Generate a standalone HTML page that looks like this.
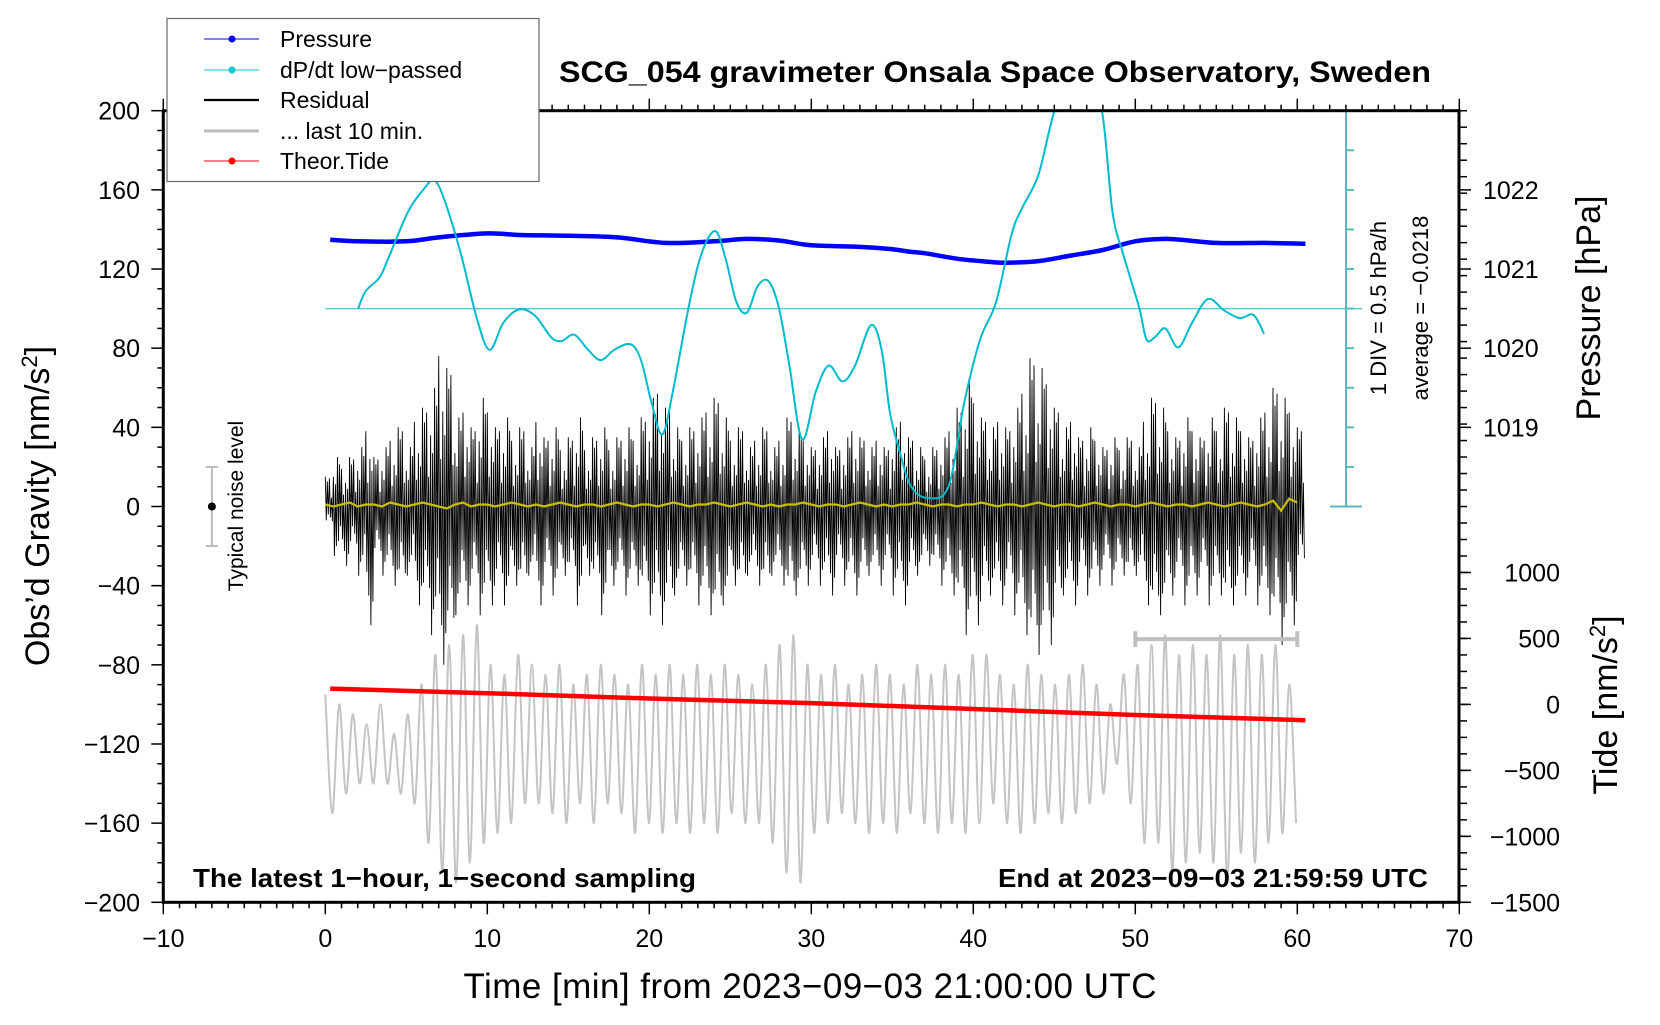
<!DOCTYPE html>
<html><head><meta charset="utf-8"><style>
body{margin:0;background:#fff}
svg text{font-family:"Liberation Sans",sans-serif}
</style></head><body>
<svg id="c" width="1660" height="1020" viewBox="0 0 1660 1020" xmlns="http://www.w3.org/2000/svg">
<defs><clipPath id="pc"><rect x="163.3" y="110.7" width="1295.7" height="791.6"/></clipPath></defs>
<rect width="1660" height="1020" fill="#fff"/>
<g id="marks" clip-path="url(#pc)"></g>
<g id="axes"></g>
<text x="995" y="82" text-anchor="middle" font-size="30" font-weight="bold" textLength="872" lengthAdjust="spacingAndGlyphs">SCG_054 gravimeter Onsala Space Observatory, Sweden</text>
<text x="193" y="887" font-size="26" font-weight="bold" textLength="503" lengthAdjust="spacingAndGlyphs">The latest 1−hour, 1−second sampling</text>
<text x="1428" y="887" text-anchor="end" font-size="26" font-weight="bold" textLength="430" lengthAdjust="spacingAndGlyphs">End at 2023−09−03 21:59:59 UTC</text>
<text x="810" y="998" text-anchor="middle" font-size="35" textLength="693">Time [min] from 2023−09−03 21:00:00 UTC</text>
<text transform="translate(49,506) rotate(-90)" text-anchor="middle" font-size="34">Obs’d Gravity [nm/s<tspan baseline-shift="super" font-size="22">2</tspan>]</text>
<text transform="translate(1600,308) rotate(-90)" text-anchor="middle" font-size="34">Pressure [hPa]</text>
<text transform="translate(1617,705) rotate(-90)" text-anchor="middle" font-size="34">Tide [nm/s<tspan baseline-shift="super" font-size="22">2</tspan>]</text>
<text transform="translate(1386,308) rotate(-90)" text-anchor="middle" font-size="22">1 DIV = 0.5 hPa/h</text>
<text transform="translate(1428,308) rotate(-90)" text-anchor="middle" font-size="22">average = −0.0218</text>
<text transform="translate(243,506) rotate(-90)" text-anchor="middle" font-size="21">Typical noise level</text>
<g>
<rect x="167" y="18.5" width="372" height="163" fill="#fff" stroke="#666" stroke-width="1.2"/>
<g><line x1="204" y1="39" x2="259" y2="39" stroke="#00f" stroke-width="1"/><circle cx="232" cy="39" r="3.5" fill="#00f"/><text x="280" y="47" font-size="23">Pressure</text></g>
<g><line x1="204" y1="70" x2="259" y2="70" stroke="#0cc" stroke-width="1"/><circle cx="232" cy="70" r="3.5" fill="#0cc"/><text x="280" y="78" font-size="23">dP/dt low−passed</text></g>
<g><line x1="204" y1="100" x2="259" y2="100" stroke="#000" stroke-width="2.2"/><text x="280" y="108" font-size="23">Residual</text></g>
<g><line x1="204" y1="131" x2="259" y2="131" stroke="#bbb" stroke-width="3"/><text x="280" y="139" font-size="23">... last 10 min.</text></g>
<g><line x1="204" y1="161" x2="259" y2="161" stroke="#f00" stroke-width="1"/><circle cx="232" cy="161" r="3.5" fill="#f00"/><text x="280" y="169" font-size="23">Theor.Tide</text></g>
</g>
</svg>
<script>
const xTicks=[-10,0,10,20,30,40,50,60,70];
const yTicks=[200,160,120,80,40,0,-40,-80,-120,-160,-200];
const pTicks=[1022,1021,1020,1019];
const tideTicks=[1000,500,0,-500,-1000,-1500];
const pT=[0.3,2,5,7,10,12,15,18,21,24,26,28,30,33,35,36,37,39,41,42,44,46,48,50,52,55,58,60.5];
const pV=[1021.37,1021.35,1021.35,1021.4,1021.45,1021.43,1021.42,1021.4,1021.33,1021.35,1021.38,1021.36,1021.3,1021.28,1021.25,1021.22,1021.2,1021.13,1021.09,1021.08,1021.1,1021.17,1021.24,1021.35,1021.38,1021.33,1021.33,1021.32];
const dT=[2.03,2.49,3.34,3.86,5.1,6.08,6.74,7.39,8.37,9.35,10.14,10.99,11.97,12.95,13.93,14.58,15.37,16.22,17.0,17.85,18.84,19.49,20.14,20.8,21.45,22.43,23.22,24.07,24.72,25.38,26.03,26.68,27.34,27.99,28.65,29.43,30.28,31.07,31.92,32.7,33.68,34.34,34.86,35.51,36.17,37.15,38.46,39.44,40.42,41.4,42.38,43.04,44.02,45.0,45.98,46.96,47.94,48.59,49.25,50.23,50.69,51.21,51.86,52.65,53.5,54.48,55.46,56.44,57.29,57.95];
const dV=[0,0.22,0.39,0.62,1.22,1.51,1.62,1.35,0.69,-0.12,-0.52,-0.18,-0.01,-0.09,-0.36,-0.41,-0.33,-0.52,-0.65,-0.52,-0.45,-0.65,-1.19,-1.59,-1.05,0.02,0.69,0.98,0.62,0.08,-0.05,0.28,0.35,0.02,-0.72,-1.65,-1.05,-0.72,-0.92,-0.72,-0.21,-0.52,-1.32,-1.85,-2.25,-2.39,-2.25,-1.19,-0.39,0.08,0.95,1.28,1.69,2.49,2.9,3.0,2.5,1.22,0.69,0.02,-0.39,-0.36,-0.25,-0.49,-0.18,0.12,-0.02,-0.12,-0.08,-0.32];
const resHi=[15,25,20,25,30,40,25,30,35,40,30,45,50,60,80,70,45,50,40,55,50,40,45,35,40,30,45,35,40,30,35,45,30,35,40,30,35,40,35,45,55,60,50,40,35,40,45,50,55,45,35,40,30,35,40,30,35,45,40,35,30,35,40,30,35,40,35,30,35,30,40,45,35,30,25,30,35,40,50,65,55,45,40,45,40,50,60,75,70,65,50,40,45,35,40,35,30,35,30,35,30,45,55,50,40,35,45,40,35,45,40,50,45,40,35,45,50,60,55,50,40];
const resLo=[-10,-25,-30,-25,-35,-60,-30,-35,-40,-45,-35,-50,-55,-65,-80,-75,-55,-50,-45,-55,-50,-45,-50,-40,-45,-35,-50,-40,-45,-35,-40,-50,-35,-45,-55,-40,-40,-45,-40,-50,-55,-60,-55,-45,-40,-45,-50,-55,-60,-50,-40,-45,-35,-40,-45,-35,-40,-50,-45,-40,-35,-40,-45,-35,-40,-45,-40,-35,-40,-35,-45,-50,-40,-35,-30,-35,-40,-45,-55,-65,-60,-50,-45,-50,-45,-55,-65,-80,-75,-70,-55,-45,-50,-40,-45,-40,-35,-40,-35,-40,-35,-50,-60,-55,-45,-40,-50,-45,-40,-50,-45,-55,-50,-45,-40,-50,-55,-65,-70,-60,-35];
const smooth=[1,0,1,2,0,1,1,0,2,1,0,1,2,1,0,-1,1,2,0,1,1,0,1,2,1,0,1,0,1,2,1,0,1,1,0,1,2,1,0,1,1,0,1,2,1,0,1,1,2,1,0,1,2,1,0,1,0,1,1,2,1,0,1,1,0,1,2,1,0,1,0,1,1,2,1,0,1,1,0,1,1,2,1,0,1,1,0,1,2,1,0,1,1,0,1,2,1,0,1,1,0,1,2,1,0,1,1,0,1,2,1,0,1,2,1,0,1,3,-2,4,2];
const gPk=[-95,-100,-105,-110,-100,-115,-105,-90,-75,-70,-65,-60,-80,-85,-75,-80,-85,-80,-90,-85,-80,-85,-90,-80,-85,-80,-85,-80,-85,-80,-85,-90,-80,-70,-65,-80,-85,-80,-90,-85,-80,-85,-90,-80,-85,-80,-85,-75,-75,-85,-90,-80,-85,-90,-85,-80,-90,-100,-85,-80,-70,-65,-75,-70,-75,-65,-75,-70,-75,-70,-90];
const gTr=[-155,-145,-140,-140,-140,-145,-150,-170,-185,-190,-180,-170,-165,-160,-150,-150,-155,-160,-150,-160,-150,-155,-165,-160,-165,-160,-165,-160,-165,-155,-160,-160,-170,-185,-190,-165,-160,-155,-160,-165,-160,-165,-155,-160,-165,-160,-165,-160,-150,-160,-165,-160,-155,-160,-155,-150,-145,-130,-150,-170,-170,-185,-180,-175,-180,-190,-175,-180,-170,-165,-160];
const tideT=[0.3,10,20,30,40,50,60.5];
const tideV=[120,85,45,10,-35,-80,-120];

const X=t=>163.3+(t+10)*16.2;
const Y=g=>110.7+(200-g)*1.979;
const PtoG=p=>160+(p-1022)*40;
const TtoG=v=>-100+v/15;
const DtoG=r=>100+r*40;
const NS='http://www.w3.org/2000/svg';
const marks=document.getElementById('marks'), axes=document.getElementById('axes');
function mk(tag,attrs,parent){const e=document.createElementNS(NS,tag);for(const k in attrs)e.setAttribute(k,attrs[k]);parent.appendChild(e);return e;}
function pl(pts){return pts.map(p=>p[0].toFixed(1)+','+p[1].toFixed(1)).join(' ');}
function smoothPath(p){let d='M'+p[0][0].toFixed(1)+','+p[0][1].toFixed(1);
 for(let i=0;i<p.length-1;i++){const p0=p[i-1]||p[i],p1=p[i],p2=p[i+1],p3=p[i+2]||p2;
  const c1=[p1[0]+(p2[0]-p0[0])/6,p1[1]+(p2[1]-p0[1])/6],c2=[p2[0]-(p3[0]-p1[0])/6,p2[1]-(p3[1]-p1[1])/6];
  d+='C'+c1[0].toFixed(1)+','+c1[1].toFixed(1)+' '+c2[0].toFixed(1)+','+c2[1].toFixed(1)+' '+p2[0].toFixed(1)+','+p2[1].toFixed(1);}
 return d;}

let gp=[];const per=0.85;
for(let i=0;i<gPk.length;i++){gp.push([X(i*per),Y(gPk[i])]);gp.push([X(i*per+per/2),Y(gTr[i])]);}
let e=mk('path',{d:smoothPath(gp),fill:'none',stroke:'#c4c4c4','stroke-width':2},marks);


const jit=[1,0.55,0.85,0.4,0.95,0.7,0.3,0.8,0.6,1,0.45,0.75];
let rp=[];const n=Math.min(resHi.length,resLo.length);let c=0;
for(let i=0;i<n;i++){for(let k=0;k<4;k++){const t=i*0.5+k*0.125;
 rp.push([X(t),Y(resHi[i]*jit[c%12])]);c++;rp.push([X(t+0.0625),Y(resLo[i]*jit[(c*5)%12])]);c++;}}
e=mk('polyline',{points:pl(rp),fill:'none',stroke:'#000','stroke-width':0.9},marks);


let sp=smooth.map((v,i)=>[X(i*0.5),Y(v)]);
e=mk('polyline',{points:pl(sp),fill:'none',stroke:'#c8c000','stroke-width':2.2},marks);


e=mk('polyline',{points:pl(tideT.map((t,i)=>[X(t),Y(TtoG(tideV[i]))])),fill:'none',stroke:'#f00','stroke-width':4.5},marks);


e=mk('path',{d:smoothPath(pT.map((t,i)=>[X(t),Y(PtoG(pV[i]))])),fill:'none',stroke:'#00f','stroke-width':4.5},marks);


e=mk('line',{x1:X(0),x2:1362,y1:Y(100),y2:Y(100),stroke:'#5cc','stroke-width':1.5},marks);


e=mk('path',{d:smoothPath(dT.map((t,i)=>[X(t),Y(DtoG(dV[i]))])),fill:'none',stroke:'#0bc','stroke-width':2}, marks);


e=mk('g',{stroke:'#5bb','stroke-width':2},axes);


mk('line',{x1:1346,x2:1346,y1:Y(200),y2:Y(0)},e);
mk('line',{x1:1330,x2:1362,y1:Y(200),y2:Y(200)},e);
mk('line',{x1:1330,x2:1362,y1:Y(0),y2:Y(0)},e);
for(let g=20;g<200;g+=20)mk('line',{x1:1346,x2:1354,y1:Y(g),y2:Y(g)},e);
e=mk('g',{stroke:'#c0c0c0','stroke-width':4},axes);


mk('line',{x1:X(50),x2:X(60),y1:Y(-67),y2:Y(-67)},e);
mk('line',{x1:X(50),x2:X(50),y1:Y(-63),y2:Y(-71)},e);
mk('line',{x1:X(60),x2:X(60),y1:Y(-63),y2:Y(-71)},e);
e=mk('g',{},axes);


mk('line',{x1:X(-7),x2:X(-7),y1:Y(20),y2:Y(-20),stroke:'#bbb','stroke-width':2},e);
mk('line',{x1:X(-7)-6,x2:X(-7)+6,y1:Y(20),y2:Y(20),stroke:'#bbb','stroke-width':2},e);
mk('line',{x1:X(-7)-6,x2:X(-7)+6,y1:Y(-20),y2:Y(-20),stroke:'#bbb','stroke-width':2},e);
mk('circle',{cx:X(-7),cy:Y(0),r:4,fill:'#000'},e);
mk('rect',{x:163.3,y:110.7,width:1295.7,height:791.6,fill:'none',stroke:'#000','stroke-width':3},axes);
for(let t=-10;t<=70;t++){const maj=t%10===0;
 mk('line',{x1:X(t),x2:X(t),y1:902.3,y2:902.3+(maj?12:6),stroke:'#000','stroke-width':1.5},axes);
 mk('line',{x1:X(t),x2:X(t),y1:110.7,y2:110.7-(maj?12:6),stroke:'#000','stroke-width':1.5},axes);}
xTicks.forEach(t=>{const tx=mk('text',{x:X(t),y:947,'text-anchor':'middle','font-size':25},axes);tx.textContent=String(t).replace('-','−');
 
 });
for(let g=-200;g<=200;g+=10){const maj=g%40===0;
 mk('line',{x1:163.3,x2:163.3-(maj?12:6),y1:Y(g),y2:Y(g),stroke:'#000','stroke-width':1.5},axes);}
yTicks.forEach(g=>{const tx=mk('text',{x:140,y:Y(g)+9,'text-anchor':'end','font-size':25},axes);tx.textContent=String(g).replace('-','−');
 
 });
for(let g=-200;g<=200;g+=8.333){ mk('line',{x1:1459,x2:1467,y1:Y(g),y2:Y(g),stroke:'#000','stroke-width':1.5},axes);}
pTicks.forEach(p=>{mk('line',{x1:1459,x2:1471,y1:Y(PtoG(p)),y2:Y(PtoG(p)),stroke:'#000','stroke-width':1.5},axes);
 const tx=mk('text',{x:1483,y:Y(PtoG(p))+9,'font-size':25},axes);tx.textContent=p;
 
 });
tideTicks.forEach(v=>{mk('line',{x1:1459,x2:1471,y1:Y(TtoG(v)),y2:Y(TtoG(v)),stroke:'#000','stroke-width':1.5},axes);
 const tx=mk('text',{x:1560,y:Y(TtoG(v))+9,'text-anchor':'end','font-size':25},axes);tx.textContent=String(v).replace('-','−');
 
 });
</script>
</body></html>
